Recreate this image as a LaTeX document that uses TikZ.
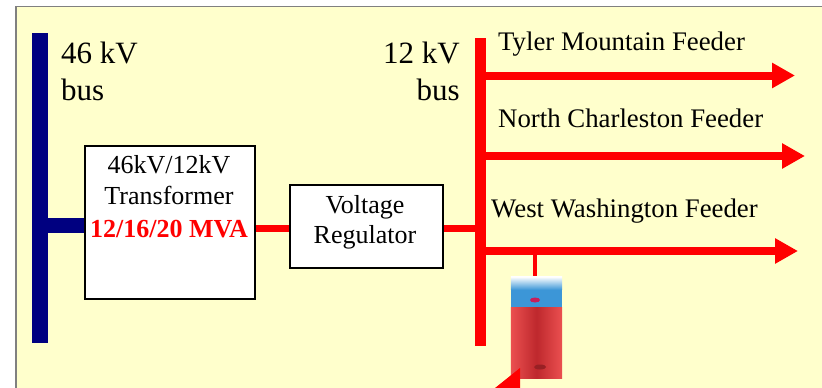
\documentclass[tikz,border=0pt]{standalone}
\usepackage{fontspec}
\setmainfont{Liberation Serif}
\usetikzlibrary{arrows.meta}
\definecolor{bg}{RGB}{255,255,204}
\definecolor{navyb}{RGB}{0,0,128}
\definecolor{framegray}{RGB}{128,128,128}
\definecolor{bblue}{RGB}{60,150,215}
\definecolor{bredl}{RGB}{235,80,80}
\definecolor{bredd}{RGB}{190,40,45}
\definecolor{bpink}{RGB}{200,30,90}
\tikzset{
  lbl/.style={font=\fontsize{26}{31}\selectfont, inner sep=0pt},
  fdrlbl/.style={font=\fontsize{26.8}{31}\selectfont, inner sep=0pt},
  buslbl/.style={font=\fontsize{31}{36}\selectfont, inner sep=0pt},
  boxnode/.style={draw=black, line width=1.5pt, fill=white, inner sep=0pt},
  feeder/.style={red, line width=8pt, -{Triangle[length=23pt,width=24pt]}},
  redlink/.style={red, line width=7pt},
}
\begin{document}
\begin{tikzpicture}[x=1pt,y=-1pt]
\useasboundingbox (0,0) rectangle (822,388);
\fill[bg] (16,6.5) rectangle (822,388);
\draw[framegray, line width=1.5pt] (16,388) -- (16,6.5) -- (822,6.5);

% buses
\node[fill=navyb, minimum width=16pt, minimum height=310pt, inner sep=0pt] (bus46) at (40,188) {};
\node[fill=red, minimum width=11pt, minimum height=308pt, inner sep=0pt] (bus12) at (480.5,192) {};

% boxes
\node[boxnode, minimum width=170pt, minimum height=153pt] (xfmr) at (170,222.5) {};
\node[boxnode, minimum width=153pt, minimum height=83pt] (vreg) at (366.5,226.5) {};

% connections
\draw[navyb, line width=15pt] (bus46.east |- 0,225.5) -- (xfmr.west |- 0,225.5);
\draw[redlink] (xfmr.east |- 0,228.5) -- (vreg.west |- 0,228.5);
\draw[redlink] (vreg.east |- 0,228.5) -- (bus12.west |- 0,228.5);

% feeders
\coordinate (f1) at (795,75.5);
\coordinate (f2) at (805,156);
\coordinate (f3) at (798,251);
\draw[feeder] (bus12.east |- f1) -- (f1);
\draw[feeder] (bus12.east |- f2) -- (f2);
\draw[feeder] (bus12.east |- f3) -- (f3);

% texts
\node[buslbl, anchor=base west] (t46a) at (61,63) {46 kV};
\node[buslbl, anchor=base west] (t46b) at (61,100) {bus};
\node[buslbl, anchor=base east] (t12a) at (460,63) {12 kV};
\node[buslbl, anchor=base east] (t12b) at (460,100) {bus};
\node[fdrlbl, anchor=base west] (tf1) at (498,50) {Tyler Mountain Feeder};
\node[fdrlbl, anchor=base west] (tf2) at (498,127) {North Charleston Feeder};
\node[fdrlbl, anchor=base west] (tf3) at (491,217) {West Washington Feeder};
\node[lbl, anchor=base] (tx1) at (169,173) {46kV/12kV};
\node[lbl, anchor=base] (tx2) at (169,204) {Transformer};
\node[lbl, anchor=base, text=red, font=\fontsize{26}{31}\selectfont\bfseries] (tx3) at (169,237) {12/16/20 MVA};
\node[lbl, anchor=base] (tv1) at (365,213) {Voltage};
\node[lbl, anchor=base] (tv2) at (365,243) {Regulator};

% battery
\node[minimum width=51pt, minimum height=101pt, inner sep=0pt] (batt) at (536.5,327.5) {};
\coordinate (tap) at (535,255);
\draw[red, line width=4pt] (tap) -- (tap |- batt.north);
\shade[top color=white, bottom color=bblue] (batt.north west) rectangle ([yshift=-13pt]batt.north east);
\fill[bblue] ([yshift=-13pt]batt.north west) rectangle ([yshift=-31pt]batt.north east);
\shade[left color=bredl, right color=bredl, middle color=bredd] ([yshift=-31pt]batt.north west) rectangle (batt.south east);
\fill[bpink] (535,300) ellipse (5 and 2.5);
\fill[bredd!80!black] (540,367) ellipse (6 and 2.5);
\fill[red] (495,388) -- (520,368) -- (520,388) -- cycle;
\end{tikzpicture}
\end{document}
